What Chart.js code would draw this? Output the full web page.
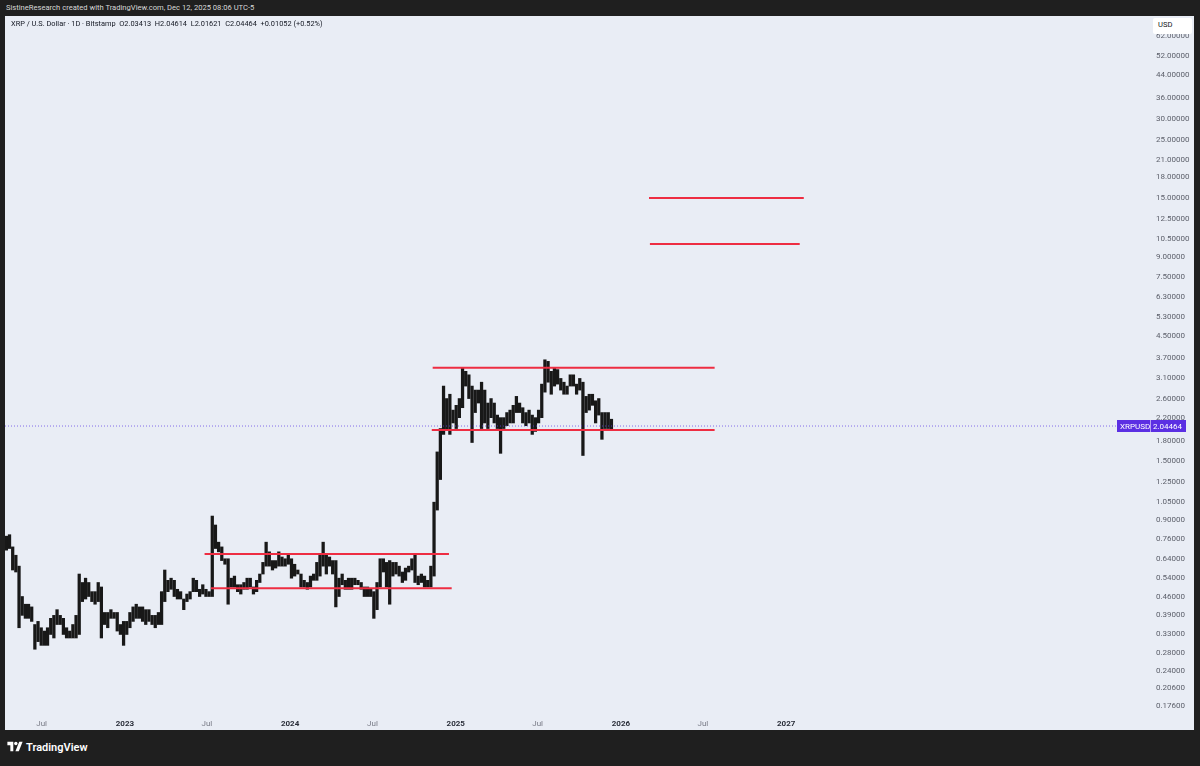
<!DOCTYPE html>
<html>
<head>
<meta charset="utf-8">
<title>XRP / U.S. Dollar</title>
<script src="https://cdn.jsdelivr.net/npm/chart.js@4.4.1/dist/chart.umd.min.js"></script>
<style>
  html, body { margin: 0; padding: 0; background: #1f1f1f; }
  body { width: 1200px; height: 766px; position: relative; overflow: hidden; font-family: Roboto, "Noto Sans", sans-serif; }
  #credit { position: absolute; left: 6px; top: 3px; color: #d8d8d8; font-size: 7.6px; white-space: nowrap; }
  #panel { position: absolute; left: 5px; top: 16px; width: 1189px; height: 714px; background: #e9edf5; }
  #panel canvas { position: absolute; left: 0; top: 0; }
  #legend { position: absolute; left: 6px; top: 3px; font-size: 7.4px; color: #131722; white-space: nowrap; z-index: 2; }
  #usd { position: absolute; left: 1148px; top: 2px; width: 39px; height: 16px; background: #fff; border-radius: 2px;
         font-size: 7.6px; color: #131722; line-height: 14px; padding-left: 5px; box-sizing: border-box; z-index: 2; }
  #logo { position: absolute; left: 7px; top: 741px; color: #fff; font-size: 11px; font-weight: 600; white-space: nowrap; }
  #logo svg { vertical-align: -1px; margin-right: 3px; }
</style>
</head>
<body>
<div id="credit">SistineResearch created with TradingView.com, Dec 12, 2025 08:06 UTC-5</div>
<div id="panel">
  <canvas id="xrpChart" width="1189" height="714"></canvas>
  <div id="legend">XRP / U.S. Dollar · 1D · Bitstamp&nbsp; O2.03413&nbsp; H2.04614&nbsp; L2.01621&nbsp; C2.04464&nbsp; +0.01052 (+0.52%)</div>
  <div id="usd">USD</div>
</div>
<div id="logo"><svg width="16" height="11" viewBox="0 0 36 26"><path d="M14 24H7V10H0V2h14v22z" fill="#fff"/><circle cx="20" cy="6" r="4" fill="#fff"/><path d="M28 2h8l-9 22h-8z" fill="#fff"/></svg>TradingView</div>

<script>
// weekly ranges (Mon start)
const weekStart = "2022-03-28";
const weekLow = [
  0.80, 0.74, 0.69, 0.70, 0.58, 0.57, 0.35, 0.39, 0.38, 0.38, 0.37, 0.29, 0.31, 0.30, 0.30, 0.30, 0.33, 0.32, 0.36, 0.36,
  0.33, 0.32, 0.32, 0.32, 0.32, 0.33, 0.44, 0.45, 0.46, 0.44, 0.43, 0.44, 0.32, 0.36, 0.35, 0.38, 0.38, 0.34, 0.33, 0.30,
  0.33, 0.35, 0.37, 0.38, 0.38, 0.37, 0.36, 0.37, 0.36, 0.35, 0.36, 0.36, 0.44, 0.48, 0.49, 0.46, 0.45, 0.45, 0.41, 0.44,
  0.45, 0.48, 0.48, 0.46, 0.47, 0.46, 0.46, 0.46, 0.70, 0.68, 0.63, 0.61, 0.43, 0.50, 0.50, 0.48, 0.47, 0.49, 0.49, 0.50,
  0.47, 0.48, 0.52, 0.56, 0.60, 0.60, 0.58, 0.59, 0.60, 0.60, 0.60, 0.61,
  0.54, 0.55, 0.56, 0.50, 0.50, 0.49, 0.50, 0.53, 0.53, 0.55, 0.60, 0.56, 0.60, 0.56, 0.42, 0.46, 0.51, 0.49, 0.49, 0.49,
  0.51, 0.51, 0.49, 0.46, 0.46, 0.46, 0.38, 0.41, 0.50, 0.57, 0.50, 0.43, 0.55, 0.56, 0.55, 0.52, 0.53, 0.57, 0.58, 0.52,
  0.51, 0.52, 0.50, 0.50, 0.50, 0.55, 0.98, 1.28, 1.90, 1.97, 1.90, 2.10, 2.00,
  2.20, 2.40, 2.90, 2.60, 1.77, 2.30, 2.50, 2.00, 2.10, 2.00, 2.20, 2.10, 2.00, 1.61, 2.00, 2.05, 2.10, 2.10, 2.30, 2.30,
  2.10, 2.05, 2.10, 1.90, 1.95, 2.10, 2.20, 2.75, 3.00, 2.70, 2.90, 2.95, 2.80, 2.70, 2.70, 2.90, 2.90, 2.70, 2.80, 1.58,
  2.30, 2.35, 2.45, 2.10, 2.25, 1.82, 2.00, 2.00, 1.98
];
const weekHigh = [
  0.87, 0.85, 0.78, 0.79, 0.71, 0.66, 0.60, 0.46, 0.43, 0.43, 0.42, 0.36, 0.37, 0.35, 0.34, 0.35, 0.38, 0.39, 0.41, 0.39,
  0.38, 0.35, 0.34, 0.36, 0.39, 0.56, 0.52, 0.54, 0.52, 0.48, 0.48, 0.52, 0.50, 0.40, 0.40, 0.41, 0.40, 0.40, 0.36, 0.37,
  0.37, 0.40, 0.42, 0.43, 0.42, 0.42, 0.41, 0.41, 0.39, 0.39, 0.40, 0.48, 0.58, 0.53, 0.54, 0.53, 0.49, 0.48, 0.45, 0.47,
  0.48, 0.54, 0.53, 0.49, 0.51, 0.49, 0.48, 0.93, 0.86, 0.74, 0.71, 0.64, 0.64, 0.54, 0.55, 0.51, 0.51, 0.52, 0.54, 0.54,
  0.50, 0.53, 0.56, 0.62, 0.74, 0.68, 0.63, 0.63, 0.68, 0.65, 0.64, 0.66,
  0.64, 0.61, 0.58, 0.56, 0.53, 0.52, 0.55, 0.56, 0.62, 0.67, 0.74, 0.66, 0.65, 0.63, 0.63, 0.54, 0.56, 0.53, 0.54, 0.54,
  0.54, 0.53, 0.52, 0.50, 0.50, 0.49, 0.48, 0.52, 0.64, 0.64, 0.62, 0.63, 0.62, 0.62, 0.60, 0.57, 0.59, 0.60, 0.64, 0.66,
  0.55, 0.56, 0.55, 0.53, 0.60, 1.05, 1.63, 2.00, 2.90, 2.60, 2.70, 2.35, 2.45,
  2.60, 3.40, 3.30, 3.20, 2.90, 2.80, 2.80, 3.00, 2.80, 2.50, 2.60, 2.50, 2.25, 2.20, 2.20, 2.30, 2.35, 2.45, 2.65, 2.50,
  2.40, 2.30, 2.35, 2.25, 2.20, 2.35, 2.95, 3.65, 3.60, 3.30, 3.40, 3.35, 3.10, 3.00, 2.90, 3.20, 3.20, 2.95, 3.10, 3.00,
  2.65, 2.70, 2.70, 2.55, 2.60, 2.30, 2.30, 2.30, 2.17
];
const lastClose = 2.04464;

// drawn levels
const levelPrice = [0.667, 0.494, 3.405, 1.974, 10.05, 15.03];
const levelFrom  = ["2023-06-26", "2023-07-10", "2024-11-11", "2024-11-09", "2026-03-06", "2026-03-04"];
const levelTo    = ["2024-12-17", "2024-12-23", "2026-07-27", "2026-07-27", "2027-01-31", "2027-02-09"];

// axes
const priceTicks = [62, 52, 44, 36, 30, 25, 21, 18, 15, 12.5, 10.5, 9, 7.5, 6.3, 5.3, 4.5, 3.7, 3.1, 2.6, 2.2, 1.8, 1.5,
  1.25, 1.05, 0.9, 0.76, 0.64, 0.54, 0.46, 0.39, 0.33, 0.28, 0.24, 0.206, 0.176];
const timeTickDates  = ["2022-07-01", "2023-01-01", "2023-07-01", "2024-01-01", "2024-07-01", "2025-01-01", "2025-07-01", "2026-01-01", "2026-07-01", "2027-01-01"];
const timeTickLabels = ["Jul", "2023", "Jul", "2024", "Jul", "2025", "Jul", "2026", "Jul", "2027"];
const axisStart = "2022-04-11", axisEnd = "2029-03-15";
const priceMin = 0.166, priceMax = 73.9;

function dayNum(s) {
  return Date.parse(s + "T00:00:00Z") / 86400000;
}

const firstDay = dayNum(weekStart);
const rangeBars = weekLow.map((lo, i) => ({ x: firstDay + 7 * i + 3, y: [lo, weekHigh[i]] }));

const red = "#ee2d42";
const levelSets = levelPrice.map((p, i) => ({
  type: "line",
  data: [{ x: dayNum(levelFrom[i]), y: p }, { x: dayNum(levelTo[i]), y: p }],
  borderColor: red, borderWidth: 2, pointRadius: 0, order: 1,
}));

const priceTag = {
  id: "priceTag",
  afterDraw(c) {
    const g = c.ctx;
    const y = Math.round(c.scales.y.getPixelForValue(lastClose));
    g.save();
    g.fillStyle = "#5b2fe3";
    g.fillRect(1112, y - 6, 69, 12);
    g.fillStyle = "rgba(255,255,255,0.55)";
    g.fillRect(1145, y - 6, 1, 12);
    g.fillStyle = "#fff";
    g.font = "8px Roboto";
    g.textBaseline = "middle";
    g.fillText("XRPUSD", 1115, y + 0.5);
    g.fillText(lastClose.toFixed(5), 1148, y + 0.5);
    g.restore();
  },
};

new Chart(document.getElementById("xrpChart"), {
  type: "bar",
  data: {
    datasets: [
      { type: "bar", data: rangeBars, backgroundColor: "#181818", borderWidth: 0, barThickness: 2.6, grouped: false, order: 3 },
      ...levelSets,
      {
        type: "line",
        data: [{ x: dayNum(axisStart), y: lastClose }, { x: dayNum(axisEnd), y: lastClose }],
        borderColor: "rgba(98,66,230,0.75)", borderWidth: 1, borderDash: [1, 2], pointRadius: 0, order: 2,
      },
    ],
  },
  options: {
    responsive: false,
    animation: false,
    layout: { padding: 0 },
    plugins: { legend: { display: false }, tooltip: { enabled: false } },
    scales: {
      x: {
        type: "linear",
        offset: false,
        min: dayNum(axisStart),
        max: dayNum(axisEnd),
        bounds: "data",
        grid: { display: false, drawTicks: false, offset: false },
        border: { display: false },
        afterBuildTicks: s => { s.ticks = timeTickDates.map(d => ({ value: dayNum(d) })); },
        afterFit: s => { s.height = 17; s.paddingLeft = 0; s.paddingRight = 0; },
        ticks: {
          autoSkip: false, maxRotation: 0, padding: 6,
          callback: (v, i) => timeTickLabels[i],
          font: ctx => ({ family: "Roboto", size: 8, weight: timeTickLabels[ctx.index] === "Jul" ? "normal" : "bold" }),
          color: ctx => timeTickLabels[ctx.index] === "Jul" ? "#787b86" : "#2a2e39",
        },
      },
      y: {
        type: "logarithmic",
        position: "right",
        min: priceMin,
        max: priceMax,
        bounds: "data",
        grid: { display: false, drawTicks: false },
        border: { display: false },
        afterBuildTicks: s => { s.ticks = priceTicks.map(v => ({ value: v })); },
        afterFit: s => { s.width = 44; s.paddingTop = 0; s.paddingBottom = 0; },
        ticks: {
          autoSkip: false, padding: 6,
          callback: (v, i) => priceTicks[i].toFixed(5),
          font: { family: "Roboto", size: 8 },
          color: "#5d606b",
        },
      },
    },
  },
  plugins: [priceTag],
});
</script>
</body>
</html>
